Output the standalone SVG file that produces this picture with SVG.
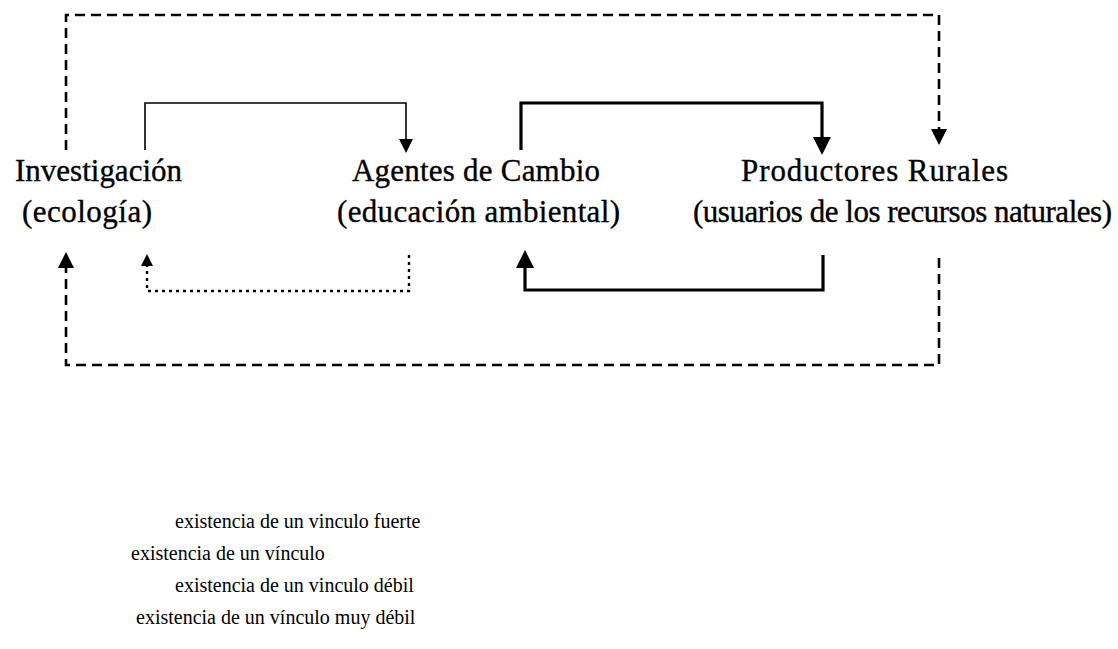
<svg xmlns="http://www.w3.org/2000/svg" width="1118" height="649" viewBox="0 0 1118 649">
<style>
.lbl{font-family:"Liberation Serif","Times New Roman",serif;font-size:31px;fill:#000;stroke:#000;stroke-width:0.35px}
.leg{font-family:"Liberation Serif","Times New Roman",serif;font-size:20px;fill:#000}
.dash{fill:none;stroke:#000;stroke-width:2.6;stroke-dasharray:10 6}
.dot{fill:none;stroke:#000;stroke-width:2.4;stroke-dasharray:3 4}
.thin{fill:none;stroke:#000;stroke-width:1.6}
.thick{fill:none;stroke:#000;stroke-width:3.2}
</style>
<defs>
<marker id="aDash" markerUnits="userSpaceOnUse" markerWidth="16" markerHeight="16" viewBox="0 0 16 16" refX="6" refY="8" orient="auto"><path d="M0,0 L16,8 L0,16 z" fill="#000"/></marker>
<marker id="aDot" markerUnits="userSpaceOnUse" markerWidth="12" markerHeight="12" viewBox="0 0 12 12" refX="4" refY="6" orient="auto"><path d="M0,0 L12,6 L0,12 z" fill="#000"/></marker>
<marker id="aThin" markerUnits="userSpaceOnUse" markerWidth="14" markerHeight="14" viewBox="0 0 14 14" refX="5" refY="7" orient="auto"><path d="M0,0 L14,7 L0,14 z" fill="#000"/></marker>
<marker id="aThick" markerUnits="userSpaceOnUse" markerWidth="18" markerHeight="18" viewBox="0 0 18 18" refX="6" refY="9" orient="auto"><path d="M0,0 L18,9 L0,18 z" fill="#000"/></marker>
</defs>
<rect width="1118" height="649" fill="#fff"/>
<g id="connectors">
<path class="dash" d="M66,150 V15 H939 V135" marker-end="url(#aDash)"/>
<path class="thin" d="M145,150 V103 H406 V144" marker-end="url(#aThin)"/>
<path class="thick" d="M521,150 V103 H822 V143" marker-end="url(#aThick)"/>
<path class="thick" d="M823,255 V290 H525 V262" marker-end="url(#aThick)"/>
<path class="dot" d="M409,255 V291 H147 V262" marker-end="url(#aDot)"/>
<path class="dash" d="M939,258 V365 H66 V262" marker-end="url(#aDash)"/>
</g>
<g id="investigacion">
<text class="lbl" x="15" y="181" textLength="167">Investigación</text>
<text class="lbl" x="22" y="222" textLength="130">(ecología)</text>
</g>
<g id="agentes">
<text class="lbl" x="352" y="181" textLength="248">Agentes de Cambio</text>
<text class="lbl" x="337" y="222" textLength="283">(educación ambiental)</text>
</g>
<g id="productores">
<text class="lbl" x="741" y="181" textLength="267">Productores Rurales</text>
<text class="lbl" x="693" y="222" textLength="419">(usuarios de los recursos naturales)</text>
</g>
<g id="legend">
<text class="leg" x="175" y="528">existencia de un vinculo fuerte</text>
<text class="leg" x="131" y="560">existencia de un vínculo</text>
<text class="leg" x="175" y="592">existencia de un vinculo débil</text>
<text class="leg" x="136" y="624">existencia de un vínculo muy débil</text>
</g>
</svg>
